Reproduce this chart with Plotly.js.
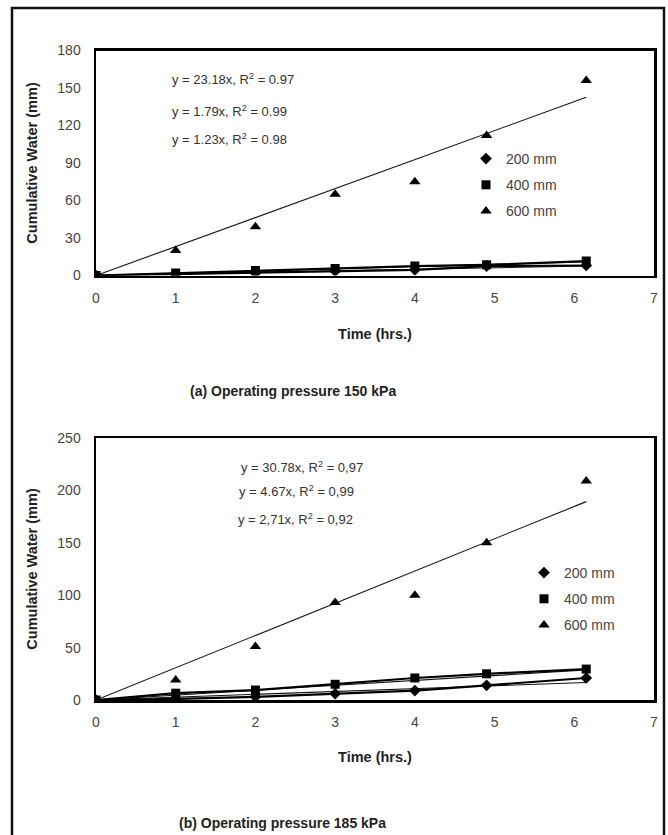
<!DOCTYPE html>
<html>
<head>
<meta charset="utf-8">
<script src="https://cdn.plot.ly/plotly-3.0.1.min.js"></script>
<style>html,body{margin:0;padding:0;background:#fff;}#chart{width:668px;height:835px;}</style>
</head>
<body>
<div id="chart"></div>
<script>
// ---- data ----
const timeHrs = [0, 1, 2, 3, 4, 4.9, 6.15];
const seriesNames = ["200 mm", "400 mm", "600 mm"];

// (a) Operating pressure 150 kPa
const a200 = [0, 1, 2, 3.5, 4.5, 7.5, 8];
const a400 = [0, 2, 4, 5.5, 7.5, 8.5, 11.5];
const a600 = [0, 20, 39, 65, 75, 112, 156];
const aSlopes = [1.23, 1.79, 23.18];
const aEquations = ["y = 23.18x, R<sup>2</sup> = 0.97", "y = 1.79x, R<sup>2</sup> = 0.99", "y = 1.23x, R<sup>2</sup> = 0.98"];
const aCaption = "(a) Operating pressure 150 kPa";

// (b) Operating pressure 185 kPa
const b200 = [0, 1, 3, 6, 9, 14, 21];
const b400 = [0, 6.5, 9.5, 15, 21, 25, 29.5];
const b600 = [0, 19, 51, 93, 100, 150, 209];
const bSlopes = [2.71, 4.67, 30.78];
const bEquations = ["y = 30.78x, R<sup>2</sup> = 0,97", "y = 4.67x, R<sup>2</sup> = 0,99", "y = 2,71x, R<sup>2</sup> = 0,92"];
const bCaption = "(b) Operating pressure 185 kPa";

const xTitle = "Time (hrs.)";
const yTitle = "Cumulative Water (mm)";

// ---- helpers ----
const W = 668, H = 835;
const px = v => v / W;
const py = v => 1 - v / H;
const symbols = ["diamond", "square", "triangle-up"];
const sizes = [9, 9, 10];

function buildTraces(vals, slopes, xa, ya, legendId) {
  const traces = [];
  const xEnd = timeHrs[timeHrs.length - 1];
  // fitted trend lines from the equations shown on the chart
  slopes.forEach(s => {
    traces.push({x: [0, xEnd], y: [0, s * xEnd], mode: "lines", xaxis: xa, yaxis: ya,
      line: {color: "#111", width: 1.1}, showlegend: false, hoverinfo: "skip"});
  });
  // connecting lines for the 200 mm and 400 mm series
  [0, 1].forEach(i => {
    traces.push({x: timeHrs, y: vals[i], mode: "lines", xaxis: xa, yaxis: ya,
      line: {color: "#000", width: 2.2}, showlegend: false, hoverinfo: "skip"});
  });
  // markers (legend entries)
  vals.forEach((v, i) => {
    traces.push({x: timeHrs, y: v, mode: "markers", name: seriesNames[i], xaxis: xa, yaxis: ya,
      legend: legendId, legendgroup: legendId + i,
      marker: {symbol: symbols[i], size: sizes[i], color: "#000"}});
  });
  return traces;
}

const data = [].concat(
  buildTraces([a200, a400, a600], aSlopes, "x", "y", "legend"),
  buildTraces([b200, b400, b600], bSlopes, "x2", "y2", "legend2")
);

const tickFont = {family: "Liberation Sans, Arial, sans-serif", size: 14, color: "#444"};
const titleFont = {family: "Liberation Sans, Arial, sans-serif", size: 14.5, color: "#222", weight: "bold"};

function xAxis(anchor, standoff) {
  return {domain: [px(96), px(654)], range: [0, 7], dtick: 1, anchor: anchor,
    showline: true, mirror: true, linecolor: "#000", linewidth: 2.5,
    showgrid: false, zeroline: false, ticks: "", tickfont: tickFont, ticklabelstandoff: 8,
    title: {text: xTitle, font: titleFont, standoff: standoff}};
}
function yAxis(dom, range, dtick, anchor) {
  return {domain: dom, range: range, dtick: dtick, anchor: anchor,
    showline: true, mirror: true, linecolor: "#000", linewidth: 2.5,
    showgrid: false, zeroline: false, ticks: "", tickfont: tickFont, ticklabelstandoff: 10,
    title: {text: yTitle, font: titleFont, standoff: 17}};
}

const eqFont = {family: "Liberation Sans, Arial, sans-serif", size: 13, color: "#333"};
const annotations = [];
const aEqY = [79, 111, 139];
aEquations.forEach((t, i) => annotations.push({text: t, xref: "paper", yref: "paper",
  x: px(170), y: py(aEqY[i]), xanchor: "left", yanchor: "middle", showarrow: false, font: eqFont}));
const bEqY = [467, 491, 519];
const bEqX = [239, 237, 236];
bEquations.forEach((t, i) => annotations.push({text: t, xref: "paper", yref: "paper",
  x: px(bEqX[i]), y: py(bEqY[i]), xanchor: "left", yanchor: "middle", showarrow: false, font: eqFont}));
const capFont = {family: "Liberation Sans, Arial, sans-serif", size: 14, color: "#222", weight: "bold"};
annotations.push({text: aCaption, xref: "paper", yref: "paper", x: px(188), y: py(391),
  xanchor: "left", yanchor: "middle", showarrow: false, font: capFont});
annotations.push({text: bCaption, xref: "paper", yref: "paper", x: px(177), y: py(823),
  xanchor: "left", yanchor: "middle", showarrow: false, font: capFont});

const legFont = {family: "Liberation Sans, Arial, sans-serif", size: 14, color: "#444"};
const layout = {
  width: W, height: H,
  margin: {l: 0, r: 0, t: 0, b: 0},
  paper_bgcolor: "#fff", plot_bgcolor: "#fff",
  showlegend: true,
  xaxis: xAxis("y", 24),
  yaxis: yAxis([py(275.5), py(50.5)], [0, 180], 30, "x"),
  xaxis2: xAxis("y2", 23),
  yaxis2: yAxis([py(700), py(438)], [0, 250], 50, "x2"),
  legend: {x: px(466), y: py(143), xanchor: "left", yanchor: "top", font: legFont,
    bgcolor: "rgba(0,0,0,0)", tracegroupgap: 5, itemwidth: 30},
  legend2: {x: px(524), y: py(557), xanchor: "left", yanchor: "top", font: legFont,
    bgcolor: "rgba(0,0,0,0)", tracegroupgap: 5, itemwidth: 30},
  annotations: annotations,
  shapes: [{type: "rect", xref: "paper", yref: "paper", x0: px(12), x1: px(664), y0: py(850), y1: py(8),
    line: {color: "#111", width: 2.5}, fillcolor: "rgba(0,0,0,0)"}]
};

Plotly.newPlot("chart", data, layout, {displayModeBar: false, staticPlot: true});
</script>
</body>
</html>
